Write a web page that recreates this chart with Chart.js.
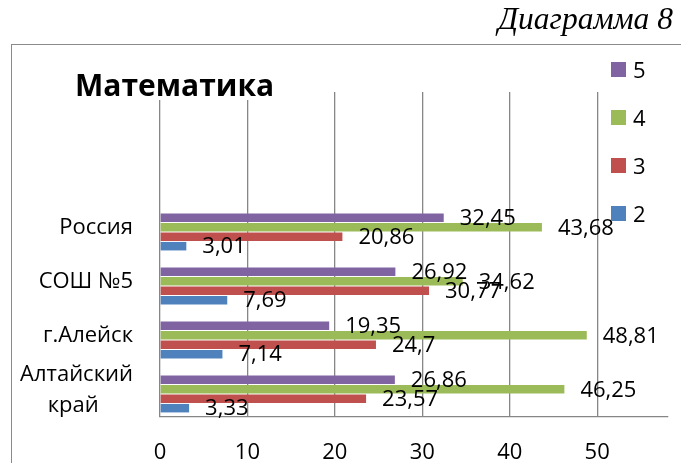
<!DOCTYPE html>
<html>
<head>
<meta charset="utf-8">
<script src="https://cdn.jsdelivr.net/npm/chart.js@4.4.1/dist/chart.umd.min.js"></script>
<style>
  html, body { margin: 0; padding: 0; background: #fff; }
  #wrap { position: relative; width: 681px; height: 463px; overflow: hidden; font-family: "Open Sans", sans-serif; }
  #frame { position: absolute; left: 11px; top: 44px; width: 720px; height: 480px;
           border-top: 1.5px solid #8a8a8a; border-left: 1.5px solid #8a8a8a; }
  #chartBox { position: absolute; left: 0; top: 0; width: 681px; height: 463px; }
  #caption { position: absolute; right: 8px; top: 1px; font: italic 31.5px "Liberation Serif", serif; color: #000; }
  #title { position: absolute; left: 75px; top: 64px; height: 36px; line-height: 34px; padding-right: 4px;
           background: #fff; font: bold 30px "Open Sans", sans-serif; color: #000; }
  #legend { position: absolute; left: 611px; top: 57px; margin: 0; padding: 0; list-style: none; }
  #legend li { height: 48px; display: flex; align-items: flex-start; font: 22px "Open Sans", sans-serif; line-height: 24px; color: #000; }
  #legend li span { display: inline-block; width: 15px; height: 15px; margin: 5px 7px 0 0; }
</style>
</head>
<body>
<div id="wrap">
  <div id="frame"></div>
  <div id="chartBox"><canvas id="mathChart"></canvas></div>
  <div id="caption">Диаграмма 8</div>
  <div id="title">Математика</div>
  <ul id="legend"></ul>
</div>
<script>
// second line padded so it sits centred under the first, as in the source
const categories = ['Россия', 'СОШ №5', 'г.Алейск', ['Алтайский', 'край\u00a0\u00a0\u00a0\u00a0\u00a0\u00a0']];
const grades = ['5', '4', '3', '2'];
const grade5 = [32.45, 26.92, 19.35, 26.86];
const grade4 = [43.68, 34.62, 48.81, 46.25];
const grade3 = [20.86, 30.77, 24.7, 23.57];
const grade2 = [3.01, 7.69, 7.14, 3.33];
const colors = ['#8064A2', '#9BBB59', '#C0504D', '#4F81BD'];

const seriesValues = [grade5, grade4, grade3, grade2];

// value labels to the right of every bar, with comma decimals
const valueLabels = {
    id: 'valueLabels',
    afterDatasetsDraw(chart) {
        const ctx = chart.ctx;
        ctx.save();
        ctx.font = '22px "Open Sans", sans-serif';
        ctx.fillStyle = '#000';
        ctx.textBaseline = 'middle';
        ctx.textAlign = 'left';
        chart.data.datasets.forEach((ds, di) => {
            chart.getDatasetMeta(di).data.forEach((bar, i) => {
                const label = String(ds.data[i].x).replace('.', ',');
                ctx.fillText(label, bar.x + 16, bar.y + 1);
            });
        });
        ctx.restore();
    }
};

const chart = new Chart(document.getElementById('mathChart'), {
    type: 'bar',
    data: {
        datasets: seriesValues.map((values, i) => ({
            label: grades[i],
            data: values.map((v, idx) => ({ x: v, y: idx })),
            backgroundColor: colors[i],
            borderWidth: 0,
            categoryPercentage: 0.70,
            barPercentage: 0.9
        }))
    },
    options: {
        indexAxis: 'y',
        responsive: true,
        maintainAspectRatio: false,
        animation: false,
        layout: {
            padding: { top: 92, right: 13, left: 0, bottom: 0 }
        },
        plugins: {
            legend: { display: false },
            tooltip: { enabled: false }
        },
        scales: {
            x: {
                type: 'linear',
                min: 0,
                max: 58.1,
                afterFit: (scale) => { scale.height = 46; },
                ticks: {
                    stepSize: 10,
                    includeBounds: false,
                    padding: 23,
                    color: '#000',
                    font: { family: 'Open Sans', size: 22 }
                },
                grid: {
                    color: '#868686',
                    lineWidth: 1.3,
                    drawTicks: false
                },
                border: { color: '#868686', width: 1.3 }
            },
            y: {
                // linear index axis so the empty space above the first group stays inside the plot
                type: 'linear',
                reverse: true,
                offset: false,
                grace: 0,
                min: -2.593,
                max: 3.426,
                afterFit: (scale) => { scale.width = 160; },
                afterBuildTicks: (scale) => {
                    scale.ticks = categories.map((c, i) => ({ value: i }));
                },
                ticks: {
                    callback: (value) => categories[value],
                    padding: 27,
                    labelOffset: -4,
                    color: '#000',
                    font: { family: 'Open Sans', size: 22, lineHeight: 1.4 }
                },
                grid: { display: false, drawTicks: false },
                border: { display: false }
            }
        }
    },
    plugins: [valueLabels]
});

// legend built from the datasets
const legendEl = document.getElementById('legend');
chart.data.datasets.forEach((ds) => {
    const li = document.createElement('li');
    li.innerHTML = '<span style="background:' + ds.backgroundColor + '"></span>' + ds.label;
    legendEl.appendChild(li);
});
</script>
</body>
</html>
